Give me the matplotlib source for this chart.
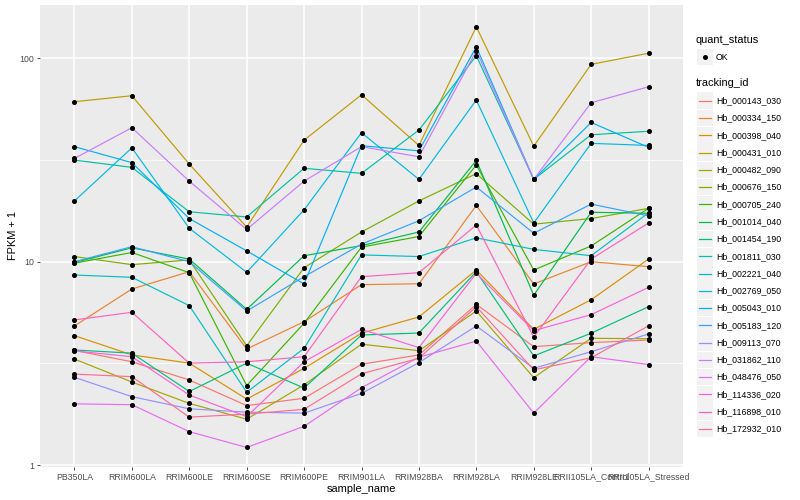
import matplotlib
matplotlib.use("Agg")
import matplotlib.pyplot as plt
from matplotlib.lines import Line2D
from matplotlib.patches import Rectangle

plt.rcParams['font.family'] = ['Liberation Sans', 'DejaVu Sans']

samples = ["PB350LA", "RRIM600LA", "RRIM600LE", "RRIM600SE", "RRIM600PE",
           "RRIM901LA", "RRIM928BA", "RRIM928LA", "RRIM928LE",
           "RRII105LA_Control", "RRII105LA_Stressed"]

# FPKM + 1 per gene (same order as samples)
hb_000143_030 = [3.66, 3.22, 2.62, 1.96, 2.13, 3.13, 3.48, 6.17, 3.82, 4.00, 4.12]
hb_000334_150 = [4.83, 7.34, 8.93, 3.72, 5.07, 7.71, 7.79, 18.9, 7.77, 10.0, 9.45]
hb_000398_040 = [4.33, 3.48, 3.17, 2.11, 2.99, 4.45, 5.35, 9.10, 4.65, 6.50, 10.3]
hb_000431_010 = [61.2, 65.5, 30.2, 14.8, 39.6, 66.2, 37.3, 143.0, 37.0, 93.4, 106.0]
hb_000482_090 = [3.32, 2.56, 2.01, 1.68, 2.48, 3.93, 3.65, 5.72, 2.69, 4.20, 4.18]
hb_000676_150 = [10.6, 9.67, 10.2, 3.86, 9.34, 14.0, 19.9, 27.1, 15.3, 16.3, 18.3]
hb_000705_240 = [9.83, 11.1, 8.83, 2.46, 4.98, 11.8, 13.3, 29.9, 9.10, 11.95, 18.3]
hb_001014_040 = [9.91, 11.7, 10.3, 5.83, 10.7, 12.0, 14.0, 31.5, 6.84, 17.5, 17.3]
hb_001454_190 = [3.68, 3.55, 2.30, 3.17, 2.39, 4.36, 4.46, 8.93, 3.44, 4.45, 6.01]
hb_001811_030 = [31.6, 29.1, 17.6, 16.6, 28.8, 27.2, 44.4, 103.0, 25.4, 42.1, 43.8]
hb_002221_040 = [8.60, 8.38, 6.08, 2.28, 3.75, 10.8, 10.6, 13.1, 11.5, 10.7, 17.4]
hb_002769_050 = [19.9, 36.3, 14.6, 8.87, 18.0, 43.1, 25.4, 62.4, 15.5, 38.2, 37.3]
hb_005043_010 = [36.8, 30.7, 16.3, 11.3, 7.77, 37.2, 35.1, 114.0, 25.4, 48.4, 36.5]
hb_005183_120 = [10.0, 11.85, 10.0, 5.72, 8.44, 12.2, 15.9, 23.3, 13.8, 19.2, 16.8]
hb_009113_070 = [2.70, 2.17, 1.89, 1.82, 1.80, 2.25, 3.19, 4.83, 2.99, 3.61, 4.41]
hb_031862_110 = [32.2, 45.6, 24.9, 14.4, 24.9, 36.8, 32.8, 109.0, 25.4, 60.5, 72.5]
hb_048476_050 = [2.00, 1.98, 1.46, 1.22, 1.55, 2.40, 3.39, 4.07, 1.80, 3.41, 3.12]
hb_114336_020 = [3.64, 3.41, 2.21, 1.73, 3.22, 4.65, 3.78, 8.77, 4.58, 5.49, 7.48]
hb_116898_010 = [5.17, 5.64, 3.17, 3.22, 3.41, 8.44, 8.83, 15.15, 4.25, 10.3, 15.5]
hb_172932_010 = [2.80, 2.72, 1.72, 1.78, 1.88, 2.81, 3.35, 6.01, 2.94, 3.37, 4.84]

tracking_ids = ["Hb_000143_030", "Hb_000334_150", "Hb_000398_040", "Hb_000431_010",
                "Hb_000482_090", "Hb_000676_150", "Hb_000705_240", "Hb_001014_040",
                "Hb_001454_190", "Hb_001811_030", "Hb_002221_040", "Hb_002769_050",
                "Hb_005043_010", "Hb_005183_120", "Hb_009113_070", "Hb_031862_110",
                "Hb_048476_050", "Hb_114336_020", "Hb_116898_010", "Hb_172932_010"]
series = [hb_000143_030, hb_000334_150, hb_000398_040, hb_000431_010, hb_000482_090,
          hb_000676_150, hb_000705_240, hb_001014_040, hb_001454_190, hb_001811_030,
          hb_002221_040, hb_002769_050, hb_005043_010, hb_005183_120, hb_009113_070,
          hb_031862_110, hb_048476_050, hb_114336_020, hb_116898_010, hb_172932_010]

# ggplot default hue palette for 20 levels
colors = ["#F8766D", "#EA8331", "#D89000", "#C09B00", "#A3A500", "#7CAE00", "#39B600",
          "#00BB4E", "#00BF7D", "#00C1A3", "#00BFC4", "#00BAE0", "#00B0F6", "#35A2FF",
          "#9590FF", "#C77CFF", "#E76BF3", "#FA62DB", "#FF62BC", "#FF6C91"]

W, H = 800, 500
fig = plt.figure(figsize=(W / 100, H / 100), dpi=100)
fig.patch.set_facecolor("white")

def fx(px):
    return px / W

def fy(py):
    return 1 - py / H

ax = fig.add_axes([fx(40), fy(467), fx(683) - fx(40), fy(5) - fy(467)])
ax.set_facecolor("#EBEBEB")
for s in ax.spines.values():
    s.set_visible(False)

x = list(range(len(samples)))
for vals, c in zip(series, colors):
    ax.plot(x, vals, color=c, lw=0.85, zorder=2)
for vals in series:
    ax.plot(x, vals, ls="none", marker="o", ms=2.6, color="black", zorder=3)

ax.set_yscale("log")
ax.set_ylim(0.978, 183)
ax.set_xlim(-0.6, len(samples) - 0.4)
ax.set_yticks([1, 10, 100])
ax.set_yticklabels(["1", "10", "100"])
ax.set_yticks([10 ** 0.5, 10 ** 1.5], minor=True)
ax.yaxis.set_minor_formatter(plt.NullFormatter())
ax.set_xticks(x)
ax.set_xticklabels(samples)

ax.grid(True, which="major", color="white", lw=1.1, zorder=0)
ax.grid(True, which="minor", axis="y", color="white", lw=0.55, zorder=0)
ax.set_axisbelow(True)
ax.tick_params(axis="both", which="major", length=2.0, width=0.6, color="#333333",
               labelsize=6.3, labelcolor="#4D4D4D", pad=2)
ax.tick_params(axis="y", which="minor", length=0)

ax.set_xlabel("sample_name", fontsize=7.9, color="black", labelpad=2)
ax.set_ylabel("FPKM + 1", fontsize=7.9, color="black", labelpad=1.5)

# legends, drawn by hand in figure coordinates
fig.text(fx(696), fy(40), "quant_status", fontsize=7.9, va="center", ha="left")
fig.add_artist(Rectangle((fx(697), fy(65)), fx(16), 16 / H, transform=fig.transFigure,
                         facecolor="#F2F2F2", edgecolor="none"))
fig.add_artist(Line2D([fx(705)], [fy(57)], marker="o", ms=2.6, color="black",
                      transform=fig.transFigure))
fig.text(fx(716), fy(57), "OK", fontsize=6.3, va="center", ha="left")

fig.text(fx(696), fy(83), "tracking_id", fontsize=7.9, va="center", ha="left")
step = 17.28
for i, (name, c) in enumerate(zip(tracking_ids, colors)):
    cy = 100.7 + i * step
    fig.add_artist(Rectangle((fx(697), fy(cy + 8.3)), fx(16), 16.6 / H,
                             transform=fig.transFigure, facecolor="#F2F2F2",
                             edgecolor="none"))
    fig.add_artist(Line2D([fx(699), fx(711)], [fy(cy), fy(cy)], color=c, lw=0.9,
                          transform=fig.transFigure))
    fig.text(fx(716.5), fy(cy), name, fontsize=6.3, va="center", ha="left")

fig.savefig("out.png", dpi=100)
